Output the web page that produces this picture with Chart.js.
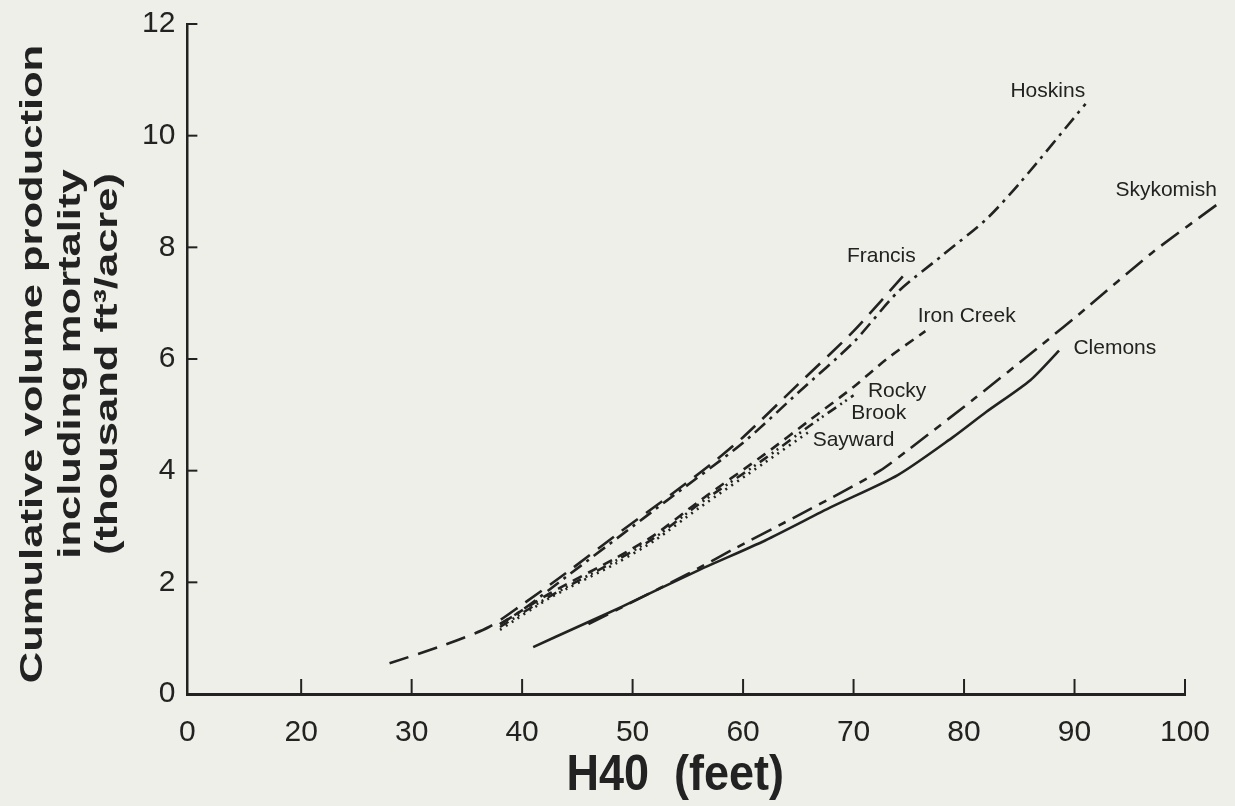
<!DOCTYPE html>
<html>
<head>
<meta charset="utf-8">
<title>Cumulative volume production vs H40</title>
<script src="https://cdn.jsdelivr.net/npm/chart.js@4.4.1/dist/chart.umd.min.js"></script>
<style>
  html, body { margin: 0; padding: 0; background: #efefe9; }
  #wrap { width: 1235px; height: 806px; position: relative; }
</style>
</head>
<body>
<div id="wrap"><canvas id="yieldChart"></canvas></div>
<script>
// H40 (feet) and cumulative volume (thousand ft3/acre)
const francisH40 = [28, 33, 37, 40, 44, 49, 53, 57, 60, 65, 70, 75];
const francisVol = [0.55, 0.88, 1.2, 1.6, 2.17, 2.92, 3.5, 4.1, 4.6, 5.55, 6.5, 7.6];

const hoskinsH40 = [38, 40, 44, 49, 53, 60, 65, 70, 74, 78, 82, 85, 91];
const hoskinsVol = [1.25, 1.5, 2.1, 2.85, 3.45, 4.5, 5.4, 6.3, 7.2, 7.85, 8.5, 9.14, 10.57];

const ironCreekH40 = [38, 42.5, 48.6, 52, 56, 62, 66, 70, 73, 76.5];
const ironCreekVol = [1.25, 1.8, 2.45, 2.85, 3.45, 4.3, 4.9, 5.5, 6.0, 6.5];

const rockyBrookH40 = [38, 42.5, 48.6, 52, 56, 62, 66, 70];
const rockyBrookVol = [1.2, 1.75, 2.4, 2.8, 3.4, 4.22, 4.8, 5.35];

const saywardH40 = [38, 42.5, 48.6, 52, 56, 62, 66];
const saywardVol = [1.15, 1.72, 2.35, 2.75, 3.33, 4.15, 4.7];

const skykomishH40 = [46, 50, 55, 59, 65, 69, 72.4, 75, 81, 87, 91, 97, 103];
const skykomishVol = [1.25, 1.65, 2.15, 2.58, 3.2, 3.62, 4.0, 4.38, 5.3, 6.25, 6.9, 7.9, 8.78];

const clemonsH40 = [41, 45, 49, 56, 62, 68, 74, 79, 82, 86, 88.6];
const clemonsVol = [0.84, 1.2, 1.56, 2.22, 2.75, 3.35, 3.92, 4.6, 5.05, 5.62, 6.15];

// the axis is broken: "0" sits one step left of 20
const xTickValues = [9.7, 20, 30, 40, 50, 60, 70, 80, 90, 100];
const xTickLabels = ['0', '20', '30', '40', '50', '60', '70', '80', '90', '100'];
const yTickValues = [0, 2, 4, 6, 8, 10, 12];

const xTitle = 'H40  (feet)';
const yTitleLines = ['Cumulative volume production', 'including mortality', '(thousand ft\u00b3/acre)'];

// curve names written next to the lines: [text, H40, volume]
const curveLabels = [
  ['Hoskins', 84.2, 10.79],
  ['Skykomish', 93.7, 9.02],
  ['Francis', 69.4, 7.85],
  ['Iron Creek', 75.8, 6.76],
  ['Clemons', 89.9, 6.19],
  ['Rocky', 71.3, 5.42],
  ['Brook', 69.8, 5.03],
  ['Sayward', 66.3, 4.54]
];

const ink = '#222';
const fontFamily = "'Liberation Sans', Arial, Helvetica, sans-serif";
Chart.defaults.font.family = fontFamily;
Chart.defaults.color = ink;

const toPoints = (xs, ys) => xs.map((x, i) => ({ x: x, y: ys[i] }));

const makeLine = (label, xs, ys, dash) => ({
  label: label,
  data: toPoints(xs, ys),
  borderColor: ink,
  borderWidth: 2.6,
  borderDash: dash,
  borderCapStyle: 'butt',
  pointRadius: 0,
  tension: 0.25,
  fill: false,
  clip: false
});

// inward tick marks, axis titles (the scan's lettering is stretched) and curve names
const figureExtras = {
  id: 'figureExtras',
  afterDraw(chart) {
    const ctx = chart.ctx;
    const xs = chart.scales.x;
    const ys = chart.scales.y;
    const area = chart.chartArea;
    ctx.save();
    ctx.strokeStyle = ink;
    ctx.lineWidth = 2;
    xTickValues.slice(1).forEach((v) => {
      const px = xs.getPixelForValue(v);
      ctx.beginPath();
      ctx.moveTo(px, area.bottom);
      ctx.lineTo(px, area.bottom - 15);
      ctx.stroke();
    });
    yTickValues.slice(1).forEach((v) => {
      const py = ys.getPixelForValue(v);
      ctx.beginPath();
      ctx.moveTo(area.left, py);
      ctx.lineTo(area.left + 10, py);
      ctx.stroke();
    });

    ctx.fillStyle = ink;
    ctx.textAlign = 'center';
    ctx.textBaseline = 'middle';

    ctx.font = 'bold 32px ' + fontFamily;
    const midY = (area.top + area.bottom) / 2 + 5;
    yTitleLines.forEach((t, i) => {
      ctx.save();
      ctx.translate(area.left - 154 + i * 37.5, midY);
      ctx.rotate(-Math.PI / 2);
      ctx.scale(1.36, 1);
      ctx.fillText(t, 0, 0);
      ctx.restore();
    });

    ctx.save();
    ctx.font = 'bold 45px ' + fontFamily;
    ctx.translate((area.left + area.right) / 2 - 11, area.bottom + 82);
    ctx.scale(1, 1.1);
    ctx.fillText(xTitle, 0, 0);
    ctx.restore();

    ctx.font = '21px ' + fontFamily;
    ctx.textAlign = 'left';
    curveLabels.forEach((l) => {
      ctx.fillText(l[0], xs.getPixelForValue(l[1]), ys.getPixelForValue(l[2]));
    });
    ctx.restore();
  }
};

new Chart(document.getElementById('yieldChart'), {
  type: 'line',
  data: {
    datasets: [
      makeLine('Francis', francisH40, francisVol, [20, 10]),
      makeLine('Hoskins', hoskinsH40, hoskinsVol, [14, 6, 3, 6]),
      makeLine('Iron Creek', ironCreekH40, ironCreekVol, [10, 7]),
      makeLine('Rocky Brook', rockyBrookH40, rockyBrookVol, [10, 5, 2, 4, 2, 5]),
      makeLine('Sayward', saywardH40, saywardVol, [2, 5]),
      makeLine('Skykomish', skykomishH40, skykomishVol, [22, 8, 8, 8]),
      makeLine('Clemons', clemonsH40, clemonsVol, [])
    ]
  },
  options: {
    responsive: true,
    maintainAspectRatio: false,
    animation: false,
    layout: { padding: { left: 130, right: 50, top: 8, bottom: 34 } },
    plugins: {
      legend: { display: false },
      tooltip: { enabled: false }
    },
    scales: {
      x: {
        type: 'linear',
        min: 9.7,
        max: 100,
        afterBuildTicks: (scale) => {
          scale.ticks = xTickValues.map((v) => ({ value: v }));
        },
        ticks: {
          autoSkip: false,
          maxRotation: 0,
          padding: 21,
          font: { size: 30 },
          callback: (value, index) => xTickLabels[index]
        },
        grid: { display: false, drawTicks: false },
        border: { display: true, color: ink, width: 3 }
      },
      y: {
        type: 'linear',
        min: 0,
        max: 12,
        afterBuildTicks: (scale) => {
          scale.ticks = yTickValues.map((v) => ({ value: v }));
        },
        ticks: {
          padding: 12,
          font: { size: 30, lineHeight: 0.8 }
        },
        grid: { display: false, drawTicks: false },
        border: { display: true, color: ink, width: 2.5 }
      }
    }
  },
  plugins: [figureExtras]
});
</script>
</body>
</html>
